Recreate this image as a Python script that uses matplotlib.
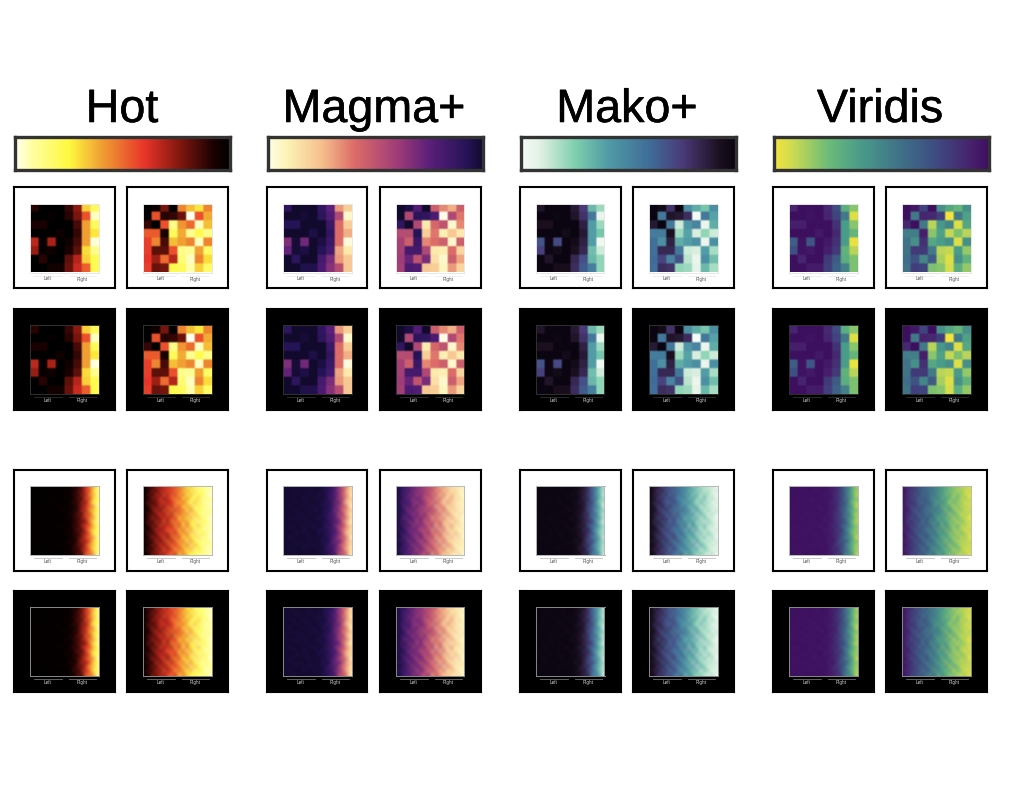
import numpy as np
import matplotlib
matplotlib.use("Agg")
import matplotlib.pyplot as plt
import matplotlib.patheffects as pe
from matplotlib.colors import LinearSegmentedColormap

W, H = 1016, 790

titles = ["Hot", "Magma+", "Mako+", "Viridis"]
title_x = [122, 374, 627, 880]
col_x = [13, 266, 519, 772]

# colorbar stops, left to right
stops = [0, 0.08, 0.25, 0.4, 0.6, 0.75, 0.92, 1]
hot_colors = ["#fffff0", "#ffffa0", "#fff93f", "#f0a033", "#e8352a", "#8a1a10", "#1a0202", "#000000"]
magma_colors = ["#fffde8", "#fdf5b8", "#f6bf8c", "#dc6c68", "#a03c78", "#5a1f7a", "#261458", "#120a2c"]
mako_colors = ["#f4fbf7", "#e5f2e5", "#7fcfae", "#519ca6", "#3f6c98", "#4a3a78", "#1c1020", "#0a0510"]
viridis_colors = ["#f4e43c", "#cfdc50", "#6cbc78", "#4a9c8a", "#3f6e88", "#3e4c82", "#47206c", "#3d0f5f"]

# cell values, 0 dark end, 1 bright end
sparse_low = [
    [.10, .00, .00, .00, .12, .25, .68, .80],
    [.00, .00, .02, .00, .10, .22, .45, .95],
    [.08, .08, .00, .00, .00, .15, .60, .80],
    [.00, .00, .00, .05, .00, .12, .60, .72],
    [.33, .02, .30, .00, .05, .15, .60, .98],
    [.27, .02, .05, .00, .08, .18, .70, .88],
    [.00, .10, .00, .00, .18, .32, .68, .78],
    [.00, .00, .06, .06, .20, .35, .48, .78],
]
sparse_high = [
    [.00, .05, .22, .00, .55, .65, .72, .55],
    [.00, .45, .10, .12, .20, 1.0, .45, .62],
    [.12, .00, .45, .88, .58, .50, .95, .65],
    [.47, .47, .08, .80, .62, .90, .78, .88],
    [.42, .55, .15, .65, .60, .55, .95, .55],
    [.42, .18, .18, .45, .88, .90, .60, .82],
    [.40, .28, .50, .32, .85, .95, .55, .70],
    [.42, .20, .22, .78, .80, .93, .68, .82],
]
dense_low = [
    [.01, .00, .03, .00, .02, .00, .01, .04, .00, .03, .02, .10, .06, .24, .30, .55, .60, .86],
    [.00, .02, .00, .04, .00, .01, .05, .00, .02, .00, .07, .04, .18, .15, .42, .40, .72, .80],
    [.03, .00, .01, .00, .03, .00, .00, .03, .01, .06, .00, .12, .09, .28, .26, .58, .62, .90],
    [.00, .01, .04, .01, .00, .05, .02, .00, .04, .01, .05, .03, .20, .12, .44, .38, .68, .78],
    [.02, .00, .00, .03, .01, .00, .04, .01, .00, .05, .02, .14, .05, .31, .22, .52, .75, .84],
    [.00, .04, .01, .00, .02, .03, .00, .05, .02, .00, .08, .02, .16, .20, .39, .47, .58, .92],
    [.01, .00, .03, .02, .00, .01, .02, .00, .06, .03, .01, .11, .07, .33, .28, .60, .66, .76],
    [.04, .01, .00, .00, .05, .00, .04, .02, .00, .01, .09, .05, .22, .14, .46, .36, .70, .88],
    [.00, .02, .02, .04, .00, .03, .00, .01, .03, .07, .00, .13, .10, .27, .34, .56, .57, .82],
    [.02, .00, .00, .01, .03, .00, .05, .00, .01, .02, .06, .04, .19, .18, .24, .49, .74, .91],
    [.00, .03, .04, .00, .01, .02, .00, .04, .05, .00, .03, .15, .06, .30, .41, .42, .63, .79],
    [.03, .00, .01, .02, .00, .05, .01, .00, .02, .04, .08, .03, .23, .11, .37, .59, .69, .85],
    [.00, .01, .00, .04, .02, .00, .03, .02, .00, .06, .01, .12, .08, .26, .29, .45, .77, .80],
    [.01, .04, .02, .00, .00, .01, .05, .00, .03, .01, .05, .06, .17, .21, .43, .54, .56, .93],
    [.00, .00, .03, .01, .04, .00, .00, .03, .01, .02, .10, .02, .13, .32, .25, .40, .71, .77],
    [.02, .01, .00, .03, .00, .02, .04, .01, .05, .00, .04, .09, .21, .16, .38, .61, .64, .87],
    [.00, .03, .01, .00, .01, .04, .00, .02, .00, .04, .02, .14, .07, .29, .33, .48, .73, .83],
    [.01, .00, .02, .02, .00, .00, .02, .00, .03, .01, .06, .05, .18, .13, .45, .50, .59, .89],
]
dense_high = [
    [.02, .16, .09, .30, .22, .40, .31, .48, .42, .58, .52, .74, .66, .85, .78, .90, .86, .97],
    [.05, .08, .26, .14, .36, .27, .44, .36, .55, .47, .69, .60, .82, .70, .91, .80, .94, .88],
    [.01, .19, .12, .33, .20, .45, .29, .50, .38, .63, .50, .79, .62, .88, .74, .84, .89, .99],
    [.07, .06, .28, .18, .39, .24, .37, .46, .58, .43, .72, .56, .76, .83, .68, .93, .81, .92],
    [.02, .21, .10, .25, .31, .42, .26, .41, .49, .66, .46, .70, .86, .65, .87, .79, .97, .90],
    [.04, .11, .29, .13, .37, .21, .47, .34, .60, .40, .75, .58, .68, .90, .72, .92, .84, .95],
    [.08, .05, .20, .35, .17, .43, .33, .53, .36, .57, .48, .81, .54, .77, .89, .76, .96, .87],
    [.01, .18, .14, .24, .40, .23, .49, .28, .62, .44, .67, .52, .87, .64, .80, .95, .82, .93],
    [.06, .09, .32, .15, .27, .38, .30, .45, .39, .71, .51, .77, .60, .91, .69, .85, .90, .98],
    [.02, .22, .07, .37, .19, .46, .25, .56, .47, .54, .64, .55, .83, .71, .94, .75, .88, .91],
    [.05, .10, .27, .12, .42, .26, .39, .32, .61, .37, .78, .49, .73, .84, .66, .92, .83, .96],
    [.09, .04, .17, .34, .21, .35, .48, .43, .44, .68, .45, .80, .57, .89, .77, .86, .95, .89],
    [.01, .20, .11, .23, .38, .28, .32, .52, .35, .59, .63, .53, .85, .67, .93, .73, .87, .94],
    [.04, .07, .30, .16, .28, .44, .22, .46, .57, .41, .74, .61, .69, .88, .70, .96, .80, .99],
    [.07, .15, .08, .36, .18, .33, .50, .30, .48, .65, .49, .83, .56, .78, .90, .81, .91, .88],
    [.02, .05, .25, .13, .41, .24, .35, .55, .40, .52, .70, .50, .88, .63, .75, .94, .85, .93],
    [.06, .17, .10, .31, .20, .47, .27, .38, .64, .45, .60, .76, .59, .92, .72, .82, .97, .90],
    [.03, .08, .24, .19, .34, .29, .42, .51, .37, .69, .53, .67, .80, .74, .86, .89, .84, .96],
]

plt.rcParams["font.family"] = ["Liberation Sans", "DejaVu Sans"]
fig = plt.figure(figsize=(W/100, H/100), dpi=100, facecolor="white")


def px_axes(x0, y0, x1, y1):
    """axes from pixel box, y measured from the top"""
    return fig.add_axes([x0/W, 1-y1/H, (x1-x0)/W, (y1-y0)/H])


def make_cmap(colors):
    return LinearSegmentedColormap.from_list("c", list(zip(stops, colors)))


def draw_panel(x0, y0, data, cmap, dark, dense):
    size = 101
    box = px_axes(x0, y0, x0+size, y0+size)
    box.set_xticks([])
    box.set_yticks([])
    box.set_facecolor("black" if dark else "white")
    for s in box.spines.values():
        s.set_color("black")
        s.set_linewidth(1.5)

    ax = px_axes(x0+16.5, y0+16.5, x0+85, y0+85.5)
    if dense:
        ax.imshow(data, cmap=cmap, vmin=0, vmax=1, aspect="auto",
                  interpolation="bicubic", interpolation_stage="rgba")
        edge = "#8a8a8a" if dark else "#b8b8b8"
    else:
        # soft cell edges like the picture
        big = np.repeat(np.repeat(np.array(data), 3, axis=0), 3, axis=1)
        ax.imshow(big, cmap=cmap, vmin=0, vmax=1, aspect="auto",
                  interpolation="hanning", interpolation_stage="rgba")
        edge = "#303030" if dark else "#e8e8e8"
    ax.set_xticks([])
    ax.set_yticks([])
    for s in ax.spines.values():
        s.set_color(edge)
        s.set_linewidth(0.7)

    tc = "#d0d0d0" if dark else "#505050"
    lc = "#707070" if dark else "#c0c0c0"
    if not dense:
        lc = "#303030" if dark else "#ececec"
    for xa, xb, label in [(x0+20, x0+48, "Left"), (x0+55, x0+82, "Right")]:
        fig.add_artist(plt.Line2D([xa/W, xb/W], [1-(y0+88.5)/H]*2, color=lc, lw=0.6))
        fig.text((xa+xb)/2/W, 1-(y0+92)/H, label, ha="center", va="center",
                 fontsize=3.3, color=tc)


for i, name in enumerate(titles):
    colors = [hot_colors, magma_colors, mako_colors, viridis_colors][i]
    cmap = make_cmap(colors)
    bright = cmap.reversed()  # cells: high value is the left end of the bar
    x = col_x[i]

    fig.text(title_x[i]/W, 1-122/H, name, ha="center", va="baseline",
             fontsize=33.6, color="black",
             path_effects=[pe.withStroke(linewidth=0.4, foreground="black")])

    bar = px_axes(x+1.5, 136.5, x+217, 169.5)
    bar.imshow(np.linspace(0, 1, 256)[None, :], cmap=cmap, aspect="auto")
    bar.set_xticks([])
    bar.set_yticks([])
    for s in bar.spines.values():
        s.set_color("#333333")
        s.set_linewidth(2.4)

    for y0, dark, low, high, dense in [
        (187, False, sparse_low, sparse_high, False),
        (308.5, True, sparse_low, sparse_high, False),
        (469.5, False, dense_low, dense_high, True),
        (590.5, True, dense_low, dense_high, True),
    ]:
        draw_panel(x+0.5, y0, low, bright, dark, dense)
        draw_panel(x+113.5, y0, high, bright, dark, dense)

fig.savefig("out.png", dpi=100, facecolor="white")
